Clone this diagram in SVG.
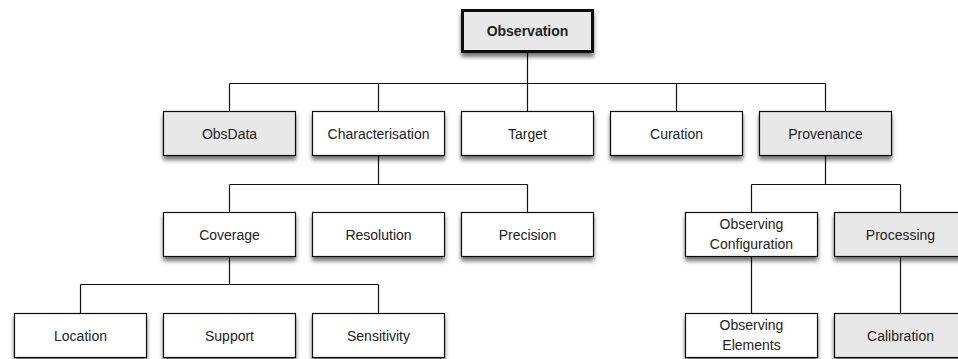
<svg xmlns="http://www.w3.org/2000/svg" width="958" height="359" viewBox="0 0 958 359">
<style>
.box{fill:#ffffff;stroke:#111;stroke-width:1.2;filter:url(#sh)}
.g{fill:#e8e8e8}
.root{fill:#e8e8e8;stroke:#111;stroke-width:3;filter:url(#sh)}
text{font-family:"Liberation Sans",Arial,sans-serif;font-size:14px;fill:#222;text-anchor:middle}
.b{font-weight:bold;font-size:14px}
.c{fill:none;stroke:#111;stroke-width:1.2}
</style>
<defs>
<filter id="sh" x="-20%" y="-20%" width="140%" height="160%">
<feGaussianBlur in="SourceAlpha" stdDeviation="2"/>
<feOffset dx="0" dy="4" result="o"/>
<feComponentTransfer><feFuncA type="linear" slope="0.55"/></feComponentTransfer>
<feMerge><feMergeNode/><feMergeNode in="SourceGraphic"/></feMerge>
</filter>
</defs>
<g id="connectors">
<path class="c" d="M527.5 52V83.5M229.5 83.5H825.5M229.5 83.5V111M378.5 83.5V111M527.5 83.5V111M676.5 83.5V111M825.5 83.5V111"/>
<path class="c" d="M378.5 155V184.5M229.5 184.5H527.5M229.5 184.5V212M527.5 184.5V212"/>
<path class="c" d="M229.5 256V284.5M80.5 284.5H378.5M80.5 284.5V313M378.5 284.5V313"/>
<path class="c" d="M825.5 155V184.5M751.5 184.5H900.5M751.5 184.5V212M900.5 184.5V212"/>
<path class="c" d="M751.5 256V313M900.5 256V313"/>
</g>
<g id="observation"><rect class="root" x="462.5" y="10.5" width="130" height="41"/><text class="b" x="527.5" y="36">Observation</text></g>
<g id="obsdata"><rect class="box g" x="163.5" y="111.5" width="132" height="44"/><text x="229.5" y="138.5">ObsData</text></g>
<g id="characterisation"><rect class="box" x="312.5" y="111.5" width="132" height="44"/><text x="378.5" y="138.5">Characterisation</text></g>
<g id="target"><rect class="box" x="461.5" y="111.5" width="132" height="44"/><text x="527.5" y="138.5">Target</text></g>
<g id="curation"><rect class="box" x="610.5" y="111.5" width="132" height="44"/><text x="676.5" y="138.5">Curation</text></g>
<g id="provenance"><rect class="box g" x="759.5" y="111.5" width="132" height="44"/><text x="825.5" y="138.5">Provenance</text></g>
<g id="coverage"><rect class="box" x="163.5" y="212.5" width="132" height="44"/><text x="229.5" y="239.5">Coverage</text></g>
<g id="resolution"><rect class="box" x="312.5" y="212.5" width="132" height="44"/><text x="378.5" y="239.5">Resolution</text></g>
<g id="precision"><rect class="box" x="461.5" y="212.5" width="132" height="44"/><text x="527.5" y="239.5">Precision</text></g>
<g id="observing-configuration"><rect class="box" x="685.5" y="212.5" width="132" height="44"/><text x="751.5" y="228.5">Observing</text><text x="751.5" y="249">Configuration</text></g>
<g id="processing"><rect class="box g" x="834.5" y="212.5" width="132" height="44"/><text x="900.5" y="239.5">Processing</text></g>
<g id="location"><rect class="box" x="14.5" y="313.5" width="132" height="44"/><text x="80.5" y="340.5">Location</text></g>
<g id="support"><rect class="box" x="163.5" y="313.5" width="132" height="44"/><text x="229.5" y="340.5">Support</text></g>
<g id="sensitivity"><rect class="box" x="312.5" y="313.5" width="132" height="44"/><text x="378.5" y="340.5">Sensitivity</text></g>
<g id="observing-elements"><rect class="box" x="685.5" y="313.5" width="132" height="44"/><text x="751.5" y="329.5">Observing</text><text x="751.5" y="350">Elements</text></g>
<g id="calibration"><rect class="box g" x="834.5" y="313.5" width="132" height="44"/><text x="900.5" y="340.5">Calibration</text></g>
</svg>
